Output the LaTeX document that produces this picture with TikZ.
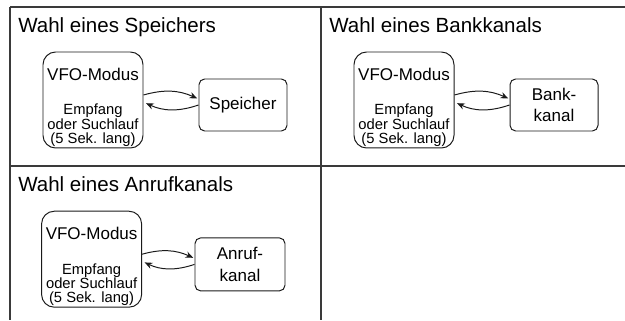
\documentclass[tikz,border=0pt]{standalone}
\usepackage{fontspec}
\setmainfont{Liberation Sans}
\usepackage{tikz}
\usetikzlibrary{arrows.meta, positioning}
\definecolor{cgrid}{HTML}{3A3A3A}
\definecolor{cdark}{HTML}{1A1A1A}
\newcommand{\paneltitle}{\fontsize{14.6}{17}\selectfont}
\newcommand{\boxlabel}{\fontsize{12.1}{15}\selectfont}
\newcommand{\boxnote}{\fontsize{10.5}{10.2}\selectfont\lineskiplimit=-20pt}

\begin{document}
\begin{tikzpicture}[
    >={Stealth[length=5.5pt, width=4.5pt]},
    grid/.style={line width=1pt, draw=cgrid},
    ptitle/.style={anchor=base west, inner sep=0pt, font=\paneltitle},
    vfobox/.style={
        rectangle, rounded corners=9pt, draw=cdark, line width=0.7pt,
        minimum width=2.5cm, minimum height=2.35cm, align=center,
        inner xsep=1pt, inner ysep=1pt, font=\boxnote
    },
    target/.style={
        rectangle, rounded corners=4pt, draw=cdark, line width=0.7pt,
        minimum width=2.2cm, minimum height=1.3cm, align=center,
        inner sep=2pt, font=\boxlabel
    },
    swaparrow/.style={->, line width=0.7pt, draw=cdark},
]
\useasboundingbox (0,0) rectangle (15.625,8);

% --- Table lines ------------------------------------------------------------
\coordinate (tl) at (0.25, 7.825);
\coordinate (tm) at (8.025, 7.825);
\coordinate (tr) at (15.625, 7.825);
\coordinate (ml) at (0.25, 3.85);
\coordinate (mr) at (15.625, 3.85);
\coordinate (bl) at (0.25, 0);
\coordinate (bm) at (8.025, 0);
\draw[grid] (tl) -- (tr);
\draw[grid] (tl) -- (bl);
\draw[grid] (tm) -- (bm);
\draw[grid] (ml) -- (mr);

% --- Panel 1: memory --------------------------------------------------------
\node[ptitle] (title1) at (0.45, 7.18) {Wahl eines Speichers};
\node[vfobox] (vfo1) at (2.325, 5.5) {%
    \boxlabel\rule{0pt}{19pt}VFO-Modus\\[14.5pt]
    \boxnote Empfang\\\boxnote oder Suchlauf\\\boxnote (5 Sek. lang)};
\node[target] (mem1) at (6.075, 5.375) {Speicher};
\draw[swaparrow, shorten >=1pt] ([yshift=0.125cm]vfo1.east)
    to[bend left=20] ([yshift=0.15cm]mem1.west);
\draw[swaparrow, shorten >=2pt] (mem1.west)
    to[bend left=22] ([yshift=-0.05cm]vfo1.east);

% --- Panel 2: bank channel --------------------------------------------------
\node[ptitle] (title2) at (8.225, 7.18) {Wahl eines Bankkanals};
\node[vfobox] (vfo2) at (10.1, 5.5) {%
    \boxlabel\rule{0pt}{19pt}VFO-Modus\\[14.5pt]
    \boxnote Empfang\\\boxnote oder Suchlauf\\\boxnote (5 Sek. lang)};
\node[target] (bank2) at (13.85, 5.375) {Bank-\\kanal};
\draw[swaparrow, shorten >=1pt] ([yshift=0.125cm]vfo2.east)
    to[bend left=20] ([yshift=0.15cm]bank2.west);
\draw[swaparrow, shorten >=2pt] (bank2.west)
    to[bend left=22] ([yshift=-0.05cm]vfo2.east);

% --- Panel 3: call channel --------------------------------------------------
\node[ptitle] (title3) at (0.45, 3.22) {Wahl eines Anrufkanals};
\node[vfobox] (vfo3) at (2.29, 1.52) {%
    \boxlabel\rule{0pt}{19pt}VFO-Modus\\[14.5pt]
    \boxnote Empfang\\\boxnote oder Suchlauf\\\boxnote (5 Sek. lang)};
\node[target, minimum width=2.25cm, minimum height=1.325cm] (call3)
    at (6.0, 1.39) {Anruf-\\kanal};
\draw[swaparrow, shorten >=1pt] ([yshift=0.125cm]vfo3.east)
    to[bend left=20] ([yshift=0.15cm]call3.west);
\draw[swaparrow, shorten >=2pt] (call3.west)
    to[bend left=22] ([yshift=-0.05cm]vfo3.east);

\end{tikzpicture}
\end{document}
